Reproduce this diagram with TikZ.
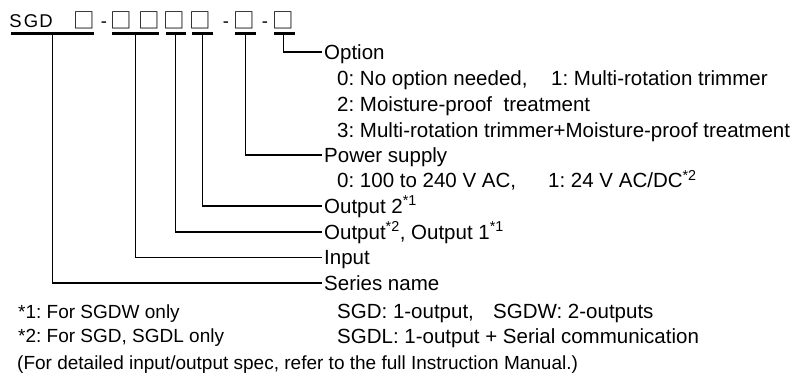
\documentclass[tikz,border=0pt]{standalone}
\usepackage{fontspec}
\setmainfont{Liberation Sans}
\newfontfamily\cjkfont{Noto Sans CJK JP}
\begin{document}
\frenchspacing
\begin{tikzpicture}[x=1pt,y=-1pt,
  lbl/.style={anchor=west,inner sep=0pt,text height=14.7pt,text depth=0pt,font=\fontsize{20.5}{24}\selectfont},
  note/.style={anchor=west,inner sep=0pt,text height=13.6pt,text depth=0pt,font=\fontsize{19}{23}\selectfont},
  ubar/.style={fill=black,inner sep=0pt,minimum height=2.9pt},
  conn/.style={line width=1.3pt,shorten >=2.5pt},
  codech/.style={anchor=base,inner sep=0pt,font=\fontsize{18.5}{21}\selectfont},
  codebox/.style={anchor=center,inner sep=0pt,font=\cjkfont\fontsize{21.5}{24}\selectfont}]
\useasboundingbox (0,0) rectangle (798,379);
% code characters
\node[codech] (cS) at (15.5,27.5) {S};
\node[codech] (cG) at (31,27.5) {G};
\node[codech] (cD) at (46,27.5) {D};
\node[codebox] (b1) at (84.7,20.5) {□};
\node[codech] (d1) at (104,27.5) {-};
\node[codebox] (b2) at (120.8,20.5) {□};
\node[codebox] (b3) at (149.2,20.5) {□};
\node[codebox] (b4) at (174.2,20.5) {□};
\node[codebox] (b5) at (200.5,20.5) {□};
\node[codech] (d2) at (226,27.5) {-};
\node[codebox] (b6) at (244.2,20.5) {□};
\node[codech] (d3) at (265,27.5) {-};
\node[codebox] (b7) at (283.3,20.5) {□};
% underlines
\node[ubar,minimum width=83pt] (u1) at (52.5,33.5) {};
\node[ubar,minimum width=47pt] (u2) at (135.5,33.5) {};
\node[ubar,minimum width=20pt] (u3) at (175.5,33.5) {};
\node[ubar,minimum width=21pt] (u4) at (202.5,33.5) {};
\node[ubar,minimum width=21pt] (u5) at (245.5,33.5) {};
\node[ubar,minimum width=21pt] (u6) at (284.5,33.5) {};
% labels
\node[lbl] (opt) at (324,52) {Option};
\node[lbl] (o0) at (337,78) {0: No option needed,};
\node[lbl] (o1) at (551,78) {1: Multi-rotation trimmer};
\node[lbl] (o2) at (337,104) {2: Moisture-proof\hspace{0.28em} treatment};
\node[lbl] (o3) at (337,130) {3: Multi-rotation trimmer+Moisture-proof treatment};
\node[lbl] (pw) at (324,155) {Power supply};
\node[lbl] (p0) at (337,180.5) {0: 100 to 240 V AC,};
\node[lbl] (p1) at (548,180.5) {1: 24 V AC/DC\textsuperscript{*2}};
\node[lbl] (out2) at (324,206) {Output 2\textsuperscript{*1}};
\node[lbl] (out1) at (324,232) {Output\textsuperscript{*2}, Output 1\textsuperscript{*1}};
\node[lbl] (inp) at (324,257.5) {Input};
\node[lbl] (ser) at (324,283) {Series name};
\node[lbl] (sgd) at (337,311) {SGD: 1-output,};
\node[lbl] (sgdw) at (493,311) {SGDW: 2-outputs};
\node[lbl] (sgdl) at (337,336.5) {SGDL: 1-output + Serial communication};
\node[note] (n1) at (18,311.5) {*1: For SGDW only};
\node[note] (n2) at (18,336) {*2: For SGD, SGDL only};
\node[note] (n3) at (17,363) {(For detailed input/output spec, refer to the full Instruction Manual.)};
% connectors
\draw[conn] ([xshift=-1.2pt]u6.south) |- (opt.west);
\draw[conn] (u5.south) |- (pw.west);
\draw[conn] (u4.south) |- (out2.west);
\draw[conn] (u3.south) |- (out1.west);
\draw[conn] (u2.south) |- (inp.west);
\draw[conn] (u1.south) |- (ser.west);
\end{tikzpicture}
\end{document}
